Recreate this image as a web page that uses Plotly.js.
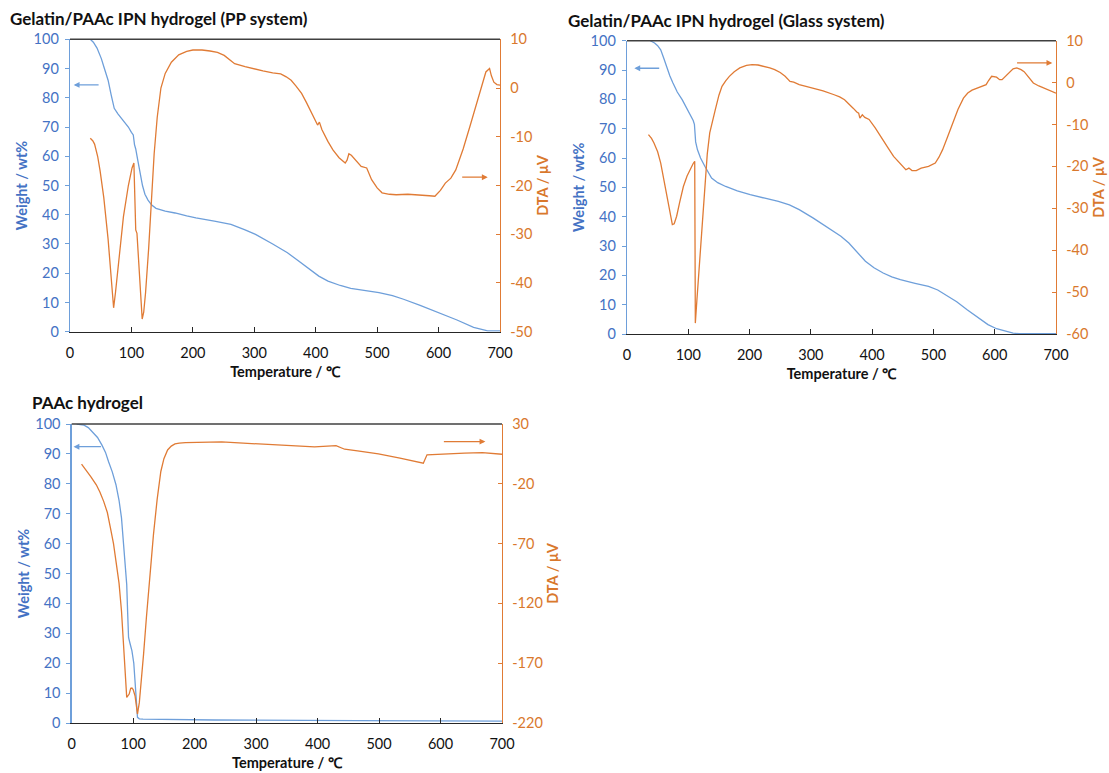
<!DOCTYPE html>
<html>
<head>
<meta charset="utf-8">
<script src="https://cdn.plot.ly/plotly-3.0.1.min.js"></script>
<style>html,body{margin:0;padding:0;background:#fff;}#chart{width:1109px;height:773px;}</style>
</head>
<body>
<div id="chart"></div>
<script>
// ---------- Panel 1: Gelatin/PAAc IPN hydrogel (PP system) ----------
const temp1W = [33, 38, 44, 51, 56, 62, 67, 72, 78, 87, 95, 100, 103, 105, 107, 110, 114, 118, 122, 127, 133, 140, 155, 171, 190, 205, 235, 262, 285, 302, 330, 354, 370, 383, 395, 405, 420, 440, 457, 480, 503, 525, 543, 570, 600, 630, 657, 670, 680, 700];
const weight1 = [100, 99, 97, 93.4, 90, 86, 81, 76.4, 74.5, 72.2, 70, 68.2, 67.3, 64, 62.5, 59, 54.5, 50, 47, 45, 43.3, 42.2, 41.2, 40.6, 39.6, 38.9, 37.8, 36.7, 34.8, 33.3, 30, 27, 24.5, 22.5, 20.5, 19, 17.3, 15.8, 14.8, 14.2, 13.4, 12.3, 11.1, 9, 6.6, 4, 1.5, 0.7, 0.3, 0.3];
const temp1D = [33, 37, 40, 45, 49, 55, 62, 67, 71, 74, 80, 87, 95, 101, 104, 105.5, 107, 109, 112, 115, 117.5, 120, 123, 128, 133, 137, 142, 148, 155, 165, 177, 190, 200, 215, 228, 240, 251, 260, 268, 285, 300, 314, 330, 343, 352, 360, 368, 377, 385, 394, 403, 406, 410, 420, 428, 438, 448, 451, 454, 458, 466, 474, 483, 487, 491, 500, 508, 520, 531, 550, 571, 585, 594, 603, 611, 620, 628, 640, 651, 660, 668, 673, 677, 683, 686, 690, 695, 700];
const dta1 = [-10.3, -10.8, -11.5, -14, -17, -22.5, -31, -38.5, -45.1, -42, -35, -26.4, -20, -16.4, -15.4, -26.8, -29.1, -29.8, -36, -43, -47.4, -46, -42, -33, -22, -13.5, -6, 0, 3, 5.3, 6.8, 7.5, 7.8, 7.8, 7.6, 7.3, 6.7, 5.8, 5.0, 4.4, 3.9, 3.5, 3.1, 2.9, 2.3, 1.6, 0.4, -1.1, -3, -5.2, -7.6, -7.0, -8.5, -11, -12.7, -14.3, -15.4, -14.8, -13.5, -13.8, -15, -16.1, -16.4, -17.5, -18.8, -20.5, -21.5, -21.8, -21.9, -21.8, -21.9, -22.1, -22.2, -21, -19.5, -18.5, -16.8, -12.5, -7.9, -4, -0.4, 2, 3.3, 4, 2.5, 1.2, 0.7, 0.6];

// ---------- Panel 2: Gelatin/PAAc IPN hydrogel (Glass system) ----------
const temp2W = [38, 45, 50, 55, 60, 64, 70, 75, 82, 90, 97, 104, 108, 110, 110.5, 112, 115, 120, 127, 133, 138, 148, 161, 180, 201, 225, 247, 265, 281, 304, 325, 349, 362, 372, 389, 403, 418, 432, 446, 470, 492, 507, 520, 538, 555, 572, 589, 603, 617, 630, 640, 700];
const weight2 = [100, 99.2, 98.3, 96.9, 94, 91.3, 88, 85.6, 82.5, 79.9, 77.3, 74.8, 72.8, 71.5, 68, 65.5, 62.8, 60, 57.2, 55, 53.2, 51.6, 50.3, 48.8, 47.5, 46.3, 45.2, 44, 42.4, 39.5, 36.6, 33.3, 31, 28.8, 24.8, 22.6, 20.8, 19.5, 18.5, 17.3, 16.2, 15, 13.4, 11, 8.3, 5.6, 3.2, 1.8, 0.9, 0.3, 0.1, 0.1];
const temp2D = [35, 40, 44, 50, 55, 60, 64, 69, 74, 77, 81, 86, 92, 98, 104, 108, 110.5, 111, 111.5, 114, 118, 122, 127, 131, 135, 140, 144, 150, 155, 161, 167, 175, 184, 195, 204, 214, 224, 233, 241, 250, 258, 262, 266, 272, 281, 292, 304, 320, 338, 347, 355, 362, 369, 375, 378, 380, 382, 384, 388, 395, 405, 418, 427, 435, 445, 455, 460, 465, 472, 480, 492, 503, 509, 515, 523, 532, 540, 549, 556, 563, 570, 577, 586, 590, 595, 603, 608, 612, 618, 623, 630, 636, 643, 648, 652, 658, 663, 672, 680, 690, 700];
const dta2 = [-12.4, -13.3, -14.4, -16.5, -19.2, -23, -26.3, -30.5, -33.9, -33.7, -31.9, -28.5, -24.8, -22.3, -20.4, -19.3, -18.8, -40, -57.4, -52, -43.9, -34, -23.2, -17, -12, -8.5, -6.5, -3, -0.9, 0.4, 1.5, 2.6, 3.5, 4.1, 4.3, 4.2, 3.9, 3.5, 3.1, 2.4, 1.5, 0.9, 0.3, 0.1, -0.5, -0.9, -1.3, -2, -2.9, -3.4, -4.1, -5, -6.1, -7, -7.3, -8.5, -8.1, -7.7, -8.3, -8.8, -10.8, -13.6, -15.8, -17.6, -19.3, -20.8, -20.4, -21, -21, -20.4, -20, -19.2, -17.8, -16, -13, -9.6, -6.4, -3.7, -2.5, -1.8, -1.4, -1.1, -0.5, 0.5, 1.5, 1.3, 0.7, 0.7, 1.6, 2.5, 3.3, 3.5, 3.1, 2.6, 1.9, 0.8, -0.1, -0.8, -1.3, -1.9, -2.5];

// ---------- Panel 3: PAAc hydrogel ----------
const temp3W = [8, 15, 20, 27, 34, 42, 49, 55, 60, 66, 72, 77, 81, 85, 89.5, 91, 92.5, 95, 98, 101, 103, 105, 107, 110, 116, 232, 465, 700];
const weight3 = [100, 99.8, 99.6, 98.8, 97.4, 95.5, 93, 90.5, 87.4, 84, 79.7, 74.5, 68.6, 59, 46.3, 37, 28.6, 26.5, 24.1, 20, 15.2, 8, 1.9, 1.4, 1.3, 1, 0.8, 0.6];
const temp3D = [16, 23, 31, 40, 46, 52, 58, 63, 68, 72, 77, 81, 85, 89.5, 93.5, 96, 98, 100, 103, 107, 110, 113, 117, 121.5, 127, 133, 139, 145, 150, 156, 162, 168, 175, 185, 244, 290, 348, 395, 430, 444, 465, 499, 534, 566, 572, 578, 598, 639, 668, 700];
const dta3 = [-3.6, -8.3, -14, -20.8, -27, -34.7, -44, -56.9, -70, -84.7, -103, -126.4, -158, -198.6, -195.8, -191, -190.8, -192, -197.2, -212.5, -203, -187.5, -162, -132, -97, -62.5, -33, -9.7, 1, 8.3, 11.5, 13.3, 14, 14.4, 15, 13.9, 12, 10.8, 11.9, 8.9, 7.5, 5, 1.4, -2.2, -2.8, 4.2, 4.8, 5.6, 6.1, 4.7];

// ---------- tick labels ----------
const tempTicks = [0, 100, 200, 300, 400, 500, 600, 700];
const weightTicks = [0, 10, 20, 30, 40, 50, 60, 70, 80, 90, 100];
const dta1Ticks = [-50, -40, -30, -20, -10, 0, 10];
const dta1Labels = ["-50", "-40", "-30", "-20", "-10", "0", "10"];
const dta2Ticks = [-60, -50, -40, -30, -20, -10, 0, 10];
const dta2Labels = ["-60", "-50", "-40", "-30", "-20", "-10", "0", "10"];
const dta3Ticks = [-220, -170, -120, -70, -20, 30];
const dta3Labels = ["-220", "-170", "-120", "-70", "-20", "30"];

const panelTitles = ["Gelatin/PAAc IPN hydrogel (PP system)", "Gelatin/PAAc IPN hydrogel (Glass system)", "PAAc hydrogel"];
const xTitle = "Temperature / ℃";
const yTitleW = "Weight / wt%";
const yTitleD = "DTA / μV";

// ---------- styling ----------
const FONT = "Lato, 'Open Sans', sans-serif";
const BLUE_LINE = "#6E9FDA";
const BLUE_TXT = "#4472C4";
const ORANGE = "#E07B35";
const ORANGE_TXT = "#D9782D";
const W = 1109, H = 773;
const px = v => v / W;
const py = v => 1 - v / H;

function wTrace(x, y, xa, ya) {
  return {x: x, y: y, xaxis: xa, yaxis: ya, type: 'scatter', mode: 'lines',
          line: {color: BLUE_LINE, width: 1.3}, hoverinfo: 'skip', showlegend: false};
}
function dTrace(x, y, xa, ya) {
  return {x: x, y: y, xaxis: xa, yaxis: ya, type: 'scatter', mode: 'lines',
          line: {color: ORANGE, width: 1.3}, hoverinfo: 'skip', showlegend: false};
}

const data = [
  wTrace(temp1W, weight1, 'x', 'y'),
  dTrace(temp1D, dta1, 'x', 'y2'),
  wTrace(temp2W, weight2, 'x2', 'y3'),
  dTrace(temp2D, dta2, 'x2', 'y4'),
  wTrace(temp3W, weight3, 'x3', 'y5'),
  dTrace(temp3D, dta3, 'x3', 'y6')
];

function xAxis(dom, anchor) {
  return {domain: dom, anchor: anchor, range: [0, 700], tickmode: 'array', tickvals: tempTicks,
    showline: true, linecolor: '#262626', linewidth: 1.4,
    ticks: 'inside', ticklen: 5, tickcolor: '#262626', tickwidth: 1,
    ticklabelstandoff: 7,
    showgrid: false, zeroline: false, automargin: false,
    tickfont: {family: FONT, size: 14.5, color: '#111'},
    title: {text: xTitle, standoff: 7, font: {family: FONT, size: 14.5, color: '#111', weight: 700}}};
}
function yAxisW(dom, anchor) {
  return {domain: dom, anchor: anchor, range: [0, 100], tickmode: 'array', tickvals: weightTicks,
    showline: true, linecolor: BLUE_LINE, linewidth: 1.3,
    ticks: 'outside', ticklen: 4, tickcolor: BLUE_LINE,
    ticklabelstandoff: 3,
    showgrid: false, zeroline: false, automargin: false,
    tickfont: {family: FONT, size: 14.5, color: BLUE_TXT},
    title: {text: yTitleW, standoff: 2, font: {family: FONT, size: 14.5, color: BLUE_TXT, weight: 700}}};
}
function yAxisD(overlay, anchor, range, vals, labels) {
  return {overlaying: overlay, anchor: anchor, side: 'right', range: range,
    tickmode: 'array', tickvals: vals, ticktext: labels,
    showline: true, linecolor: ORANGE, linewidth: 1.3,
    ticks: 'inside', ticklen: 4, tickcolor: ORANGE,
    ticklabelstandoff: 6,
    showgrid: false, zeroline: false, automargin: false,
    tickfont: {family: FONT, size: 14.5, color: ORANGE_TXT},
    title: {text: yTitleD, standoff: 6, font: {family: FONT, size: 14.5, color: ORANGE_TXT, weight: 700}}};
}

function arrow(xr, yr, xHead, yHead, xTail, yTail, color) {
  return {xref: xr, yref: yr, axref: xr, ayref: yr, x: xHead, y: yHead, ax: xTail, ay: yTail,
    text: '', showarrow: true, arrowhead: 2, arrowsize: 0.9, arrowwidth: 1.3, arrowcolor: color};
}
function ptitle(text, x, y) {
  return {xref: 'paper', yref: 'paper', x: px(x), y: py(y), xanchor: 'left', yanchor: 'middle',
    text: '<b>' + text + '</b>', showarrow: false, font: {family: FONT, size: 17, color: '#111'}};
}
function topLine(xa, ya) {
  return {type: 'line', xref: xa + ' domain', yref: ya + ' domain', x0: 0, x1: 1, y0: 1, y1: 1,
    line: {color: '#404040', width: 1.5}};
}

const layout = {
  width: W, height: H,
  margin: {l: 0, r: 0, t: 0, b: 0},
  paper_bgcolor: '#fff', plot_bgcolor: '#fff',
  showlegend: false,
  font: {family: FONT},
  xaxis: xAxis([px(70), px(500)], 'y'),
  yaxis: yAxisW([py(331.7), py(39.3)], 'x'),
  yaxis2: yAxisD('y', 'x', [-50, 10], dta1Ticks, dta1Labels),
  xaxis2: xAxis([px(627), px(1056)], 'y3'),
  yaxis3: yAxisW([py(334), py(40.7)], 'x2'),
  yaxis4: yAxisD('y3', 'x2', [-60, 10], dta2Ticks, dta2Labels),
  xaxis3: xAxis([px(71.7), px(502)], 'y5'),
  yaxis5: yAxisW([py(723), py(424)], 'x3'),
  yaxis6: yAxisD('y5', 'x3', [-220, 30], dta3Ticks, dta3Labels),
  shapes: [topLine('x', 'y'), topLine('x2', 'y3'), topLine('x3', 'y5')],
  annotations: [
    ptitle(panelTitles[0], 8, 19),
    ptitle(panelTitles[1], 566, 20.5),
    ptitle(panelTitles[2], 30, 402),
    arrow('x', 'y', 6, 84.4, 49, 84.4, BLUE_LINE),
    arrow('x', 'y2', 680, -18.3, 636, -18.3, ORANGE),
    arrow('x2', 'y3', 12, 90.6, 55, 90.6, BLUE_LINE),
    arrow('x2', 'y4', 694, 4.7, 634, 4.7, ORANGE),
    arrow('x3', 'y5', 3, 92.4, 50, 92.4, BLUE_LINE),
    arrow('x3', 'y6', 673, 15.3, 603, 15.3, ORANGE)
  ]
};

Plotly.newPlot('chart', data, layout, {displayModeBar: false, staticPlot: true});
</script>
</body>
</html>
